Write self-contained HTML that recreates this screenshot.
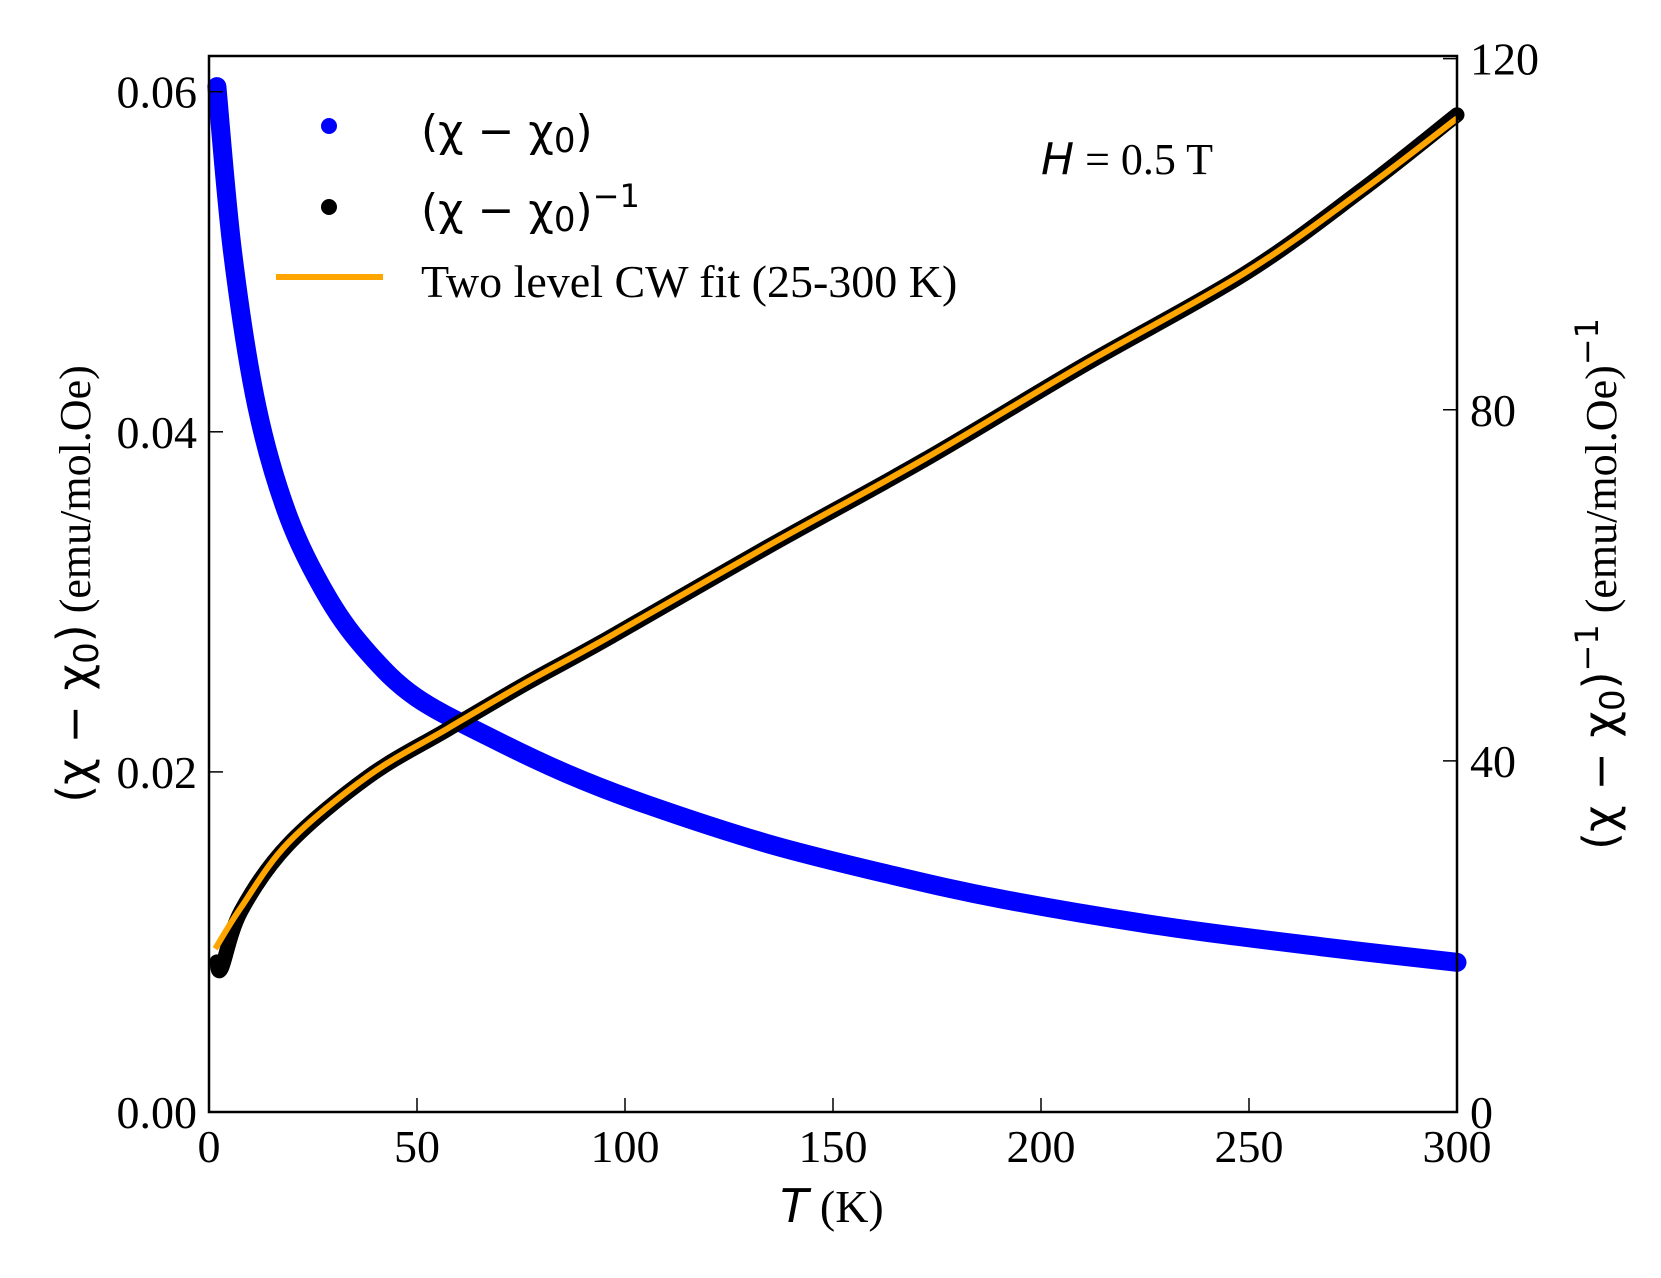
<!DOCTYPE html>
<html><head><meta charset="utf-8"><style>
html,body{margin:0;padding:0;background:#fff;}
svg{display:block;}
text{font-family:"Liberation Serif",serif;fill:#000;}
.m{font-family:"DejaVu Sans",sans-serif;}
</style></head><body>
<svg id="chart" width="1661" height="1278" viewBox="0 0 1661 1278">
<g id="marks"></g>
<rect x="209" y="56" width="1248" height="1056" fill="none" stroke="#000" stroke-width="2.5"/>
<g id="axes"></g>
<text x="832" y="1222" font-size="46" text-anchor="middle"><tspan class="m" font-style="italic">T</tspan> (K)</text>
<text transform="translate(90,584) rotate(-90)" font-size="44" text-anchor="middle"><tspan class="m" font-size="46">(χ − χ</tspan><tspan class="m" font-size="34" dy="8">0</tspan><tspan class="m" font-size="46" dy="-8">)</tspan> (emu/mol.Oe)</text>
<text transform="translate(1616,584) rotate(-90)" font-size="44" text-anchor="middle"><tspan class="m" font-size="46">(χ − χ</tspan><tspan class="m" font-size="34" dy="8">0</tspan><tspan class="m" font-size="46" dy="-8">)</tspan><tspan class="m" font-size="32" dy="-18">−1</tspan><tspan dy="18"> (emu/mol.Oe)</tspan><tspan class="m" font-size="32" dy="-18">−1</tspan></text>
<g>
<circle cx="329" cy="126" r="8" fill="#0000ff"/>
<text x="421" y="146" class="m" font-size="44">(χ − χ<tspan font-size="34" dy="6">0</tspan><tspan dy="-6">)</tspan></text>
<circle cx="329" cy="207" r="8" fill="#000"/>
<text x="421" y="225" class="m" font-size="44">(χ − χ<tspan font-size="34" dy="6">0</tspan><tspan dy="-6">)</tspan><tspan font-size="32" dy="-18">−1</tspan></text>
<line x1="276" y1="277" x2="383" y2="277" stroke="#ffa500" stroke-width="6"/>
<text x="421" y="297" font-size="46">Two level CW fit (25-300 K)</text>
</g>
<text x="1041" y="174" font-size="44"><tspan class="m" font-style="italic">H</tspan> = 0.5 T</text>
</svg>
<script>
const temps = [1.9,5.7,11.5,19.1,28.7,38.3,49.7,67,86,105,134,163,191,230,268,300];
const chiValues = [0.0603,0.0505,0.0415,0.0350,0.0302,0.0270,0.0244,0.0221,0.0199,0.0181,0.0158,0.0140,0.0125,0.0109,0.0097,0.0088];
const invTemps = [1.9,3,7.7,19.1,38.3,57.4,76.5,95.7,134,172,210,249,277,300];
const invChiValues = [17.1,16.4,22.9,30.5,38.2,43.6,48.9,53.9,64.3,74.3,85.0,95.5,105.0,113.6];
const fitTemps = [1.5,7.7,19.1,38.3,57.4,76.5,95.7,134,172,210,249,277,300];
const fitValues = [18.6,23.3,30.7,38.3,43.7,49.0,54.0,64.4,74.4,85.1,95.6,104.9,113.2];
const xTicks = [0,50,100,150,200,250,300];
const leftTicks = [0,0.02,0.04,0.06];
const leftTickLabels = ["0.00","0.02","0.04","0.06"];
const rightTicks = [0,40,80,120];
const rightTickLabels = ["0","40","80","120"];

const L=209,R=1457,T=56,B=1112;
const xS=v=>L+(v/300)*(R-L);
const yL=v=>B-(v/0.0621)*(B-T);
const yR=v=>B-(v/120.3)*(B-T);
const NS="http://www.w3.org/2000/svg";
const marks=document.getElementById('marks'), axes=document.getElementById('axes');
function mk(tag,attrs,parent){const e=document.createElementNS(NS,tag);for(const k in attrs)e.setAttribute(k,attrs[k]);parent.appendChild(e);return e;}
function smoothPath(xs,ys){
  const p=xs.map((x,i)=>[x,ys[i]]);let d=`M${p[0][0]},${p[0][1]}`;
  for(let i=0;i<p.length-1;i++){const p0=p[i-1]||p[i],p1=p[i],p2=p[i+1],p3=p[i+2]||p2;
    d+=` C${p1[0]+(p2[0]-p0[0])/6},${p1[1]+(p2[1]-p0[1])/6} ${p2[0]-(p3[0]-p1[0])/6},${p2[1]-(p3[1]-p1[1])/6} ${p2[0]},${p2[1]}`;}
  return d;}
let e;
e=mk('path',{d:smoothPath(temps.map(xS),chiValues.map(yL)),fill:'none',stroke:'#0000ff','stroke-width':19,'stroke-linecap':'round','stroke-linejoin':'round'},marks);


e=mk('path',{d:smoothPath(invTemps.map(xS),invChiValues.map(yR)),fill:'none',stroke:'#000','stroke-width':15,'stroke-linecap':'round','stroke-linejoin':'round'},marks);


e=mk('path',{d:smoothPath(fitTemps.map(xS),fitValues.map(yR)),fill:'none',stroke:'#ffa500','stroke-width':6},marks);


xTicks.forEach(v=>{
  e=mk('line',{x1:xS(v),x2:xS(v),y1:B,y2:B-14,stroke:'#000','stroke-width':1.5},axes);
  
  
  e=mk('text',{x:xS(v),y:B+50,'font-size':46,'text-anchor':'middle'},axes);e.textContent=v;
  
  
});
leftTicks.forEach((v,i)=>{
  e=mk('line',{x1:L,x2:L+14,y1:yL(v),y2:yL(v),stroke:'#000','stroke-width':1.5},axes);
  
  
  e=mk('text',{x:L-12,y:yL(v)+16,'font-size':46,'text-anchor':'end'},axes);e.textContent=leftTickLabels[i];
  
  
});
rightTicks.forEach((v,i)=>{
  e=mk('line',{x1:R,x2:R-14,y1:yR(v),y2:yR(v),stroke:'#000','stroke-width':1.5},axes);
  
  
  e=mk('text',{x:R+13,y:yR(v)+16,'font-size':46,'text-anchor':'start'},axes);e.textContent=rightTickLabels[i];
  
  
});
</script>
</body></html>
